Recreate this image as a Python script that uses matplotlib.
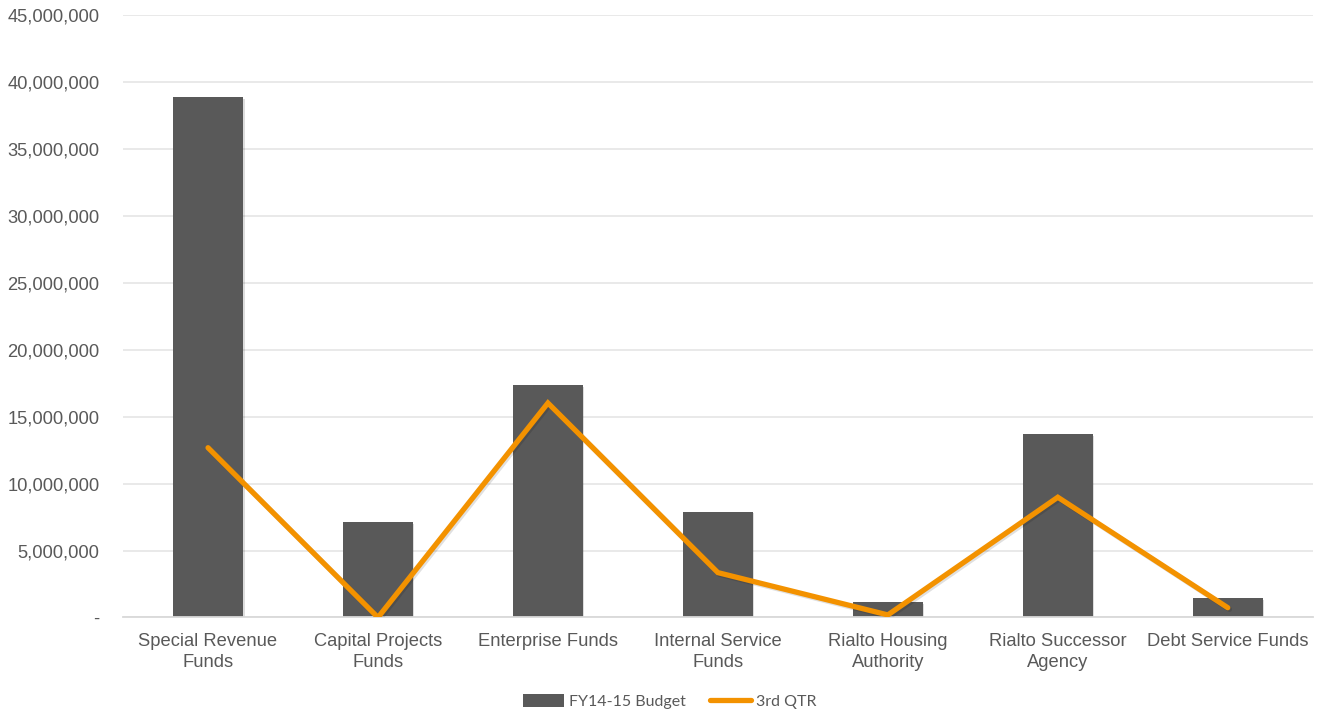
import matplotlib
matplotlib.use("Agg")
import matplotlib.pyplot as plt
import matplotlib.patheffects as pe
from matplotlib.ticker import FuncFormatter, MultipleLocator
from matplotlib.lines import Line2D
from matplotlib.patches import Patch
import numpy as np

categories = [
    "Special Revenue\nFunds",
    "Capital Projects\nFunds",
    "Enterprise Funds",
    "Internal Service\nFunds",
    "Rialto Housing\nAuthority",
    "Rialto Successor\nAgency",
    "Debt Service Funds",
]
budget = [38_850_000, 7_110_000, 17_360_000, 7_900_000, 1_140_000, 13_680_000, 1_430_000]
third_qtr = [12_680_000, 0, 16_020_000, 3_350_000, 190_000, 8_980_000, 730_000]

bar_color = "#595959"
line_color = "#F39200"
text_color = "#595959"

plt.rcParams["font.family"] = ["Liberation Sans", "DejaVu Sans"]

fig = plt.figure(figsize=(13.26, 7.15), dpi=100)
ax = fig.add_axes([0.0928, 0.1364, 0.8972, 0.8426])

x = np.arange(len(categories))
ax.bar(x, budget, width=0.41, color=bar_color, zorder=2,
       path_effects=[pe.SimplePatchShadow(offset=(1.2, -1.2), alpha=0.15), pe.Normal()])
ax.plot(x, third_qtr, color=line_color, linewidth=3.8, solid_capstyle="round",
        solid_joinstyle="miter", zorder=3,
        path_effects=[pe.SimpleLineShadow(offset=(1.2, -1.2), alpha=0.12), pe.Normal()])

ax.set_xlim(-0.5, len(categories) - 0.5)
ax.set_ylim(0, 45_000_000)
ax.yaxis.set_major_locator(MultipleLocator(5_000_000))
ax.yaxis.set_major_formatter(FuncFormatter(lambda v, p: "-" if v == 0 else f"{v:,.0f}"))
ax.grid(axis="y", color="#e3e3e3", linewidth=1.1, zorder=0)
ax.set_axisbelow(True)

for s in ["top", "right", "left"]:
    ax.spines[s].set_visible(False)
ax.spines["bottom"].set_color("#d9d9d9")
ax.spines["bottom"].set_linewidth(1.3)

ax.set_xticks(x)
ax.set_xticklabels(categories, fontsize=13.2, color=text_color, linespacing=1.3)
ax.tick_params(axis="x", length=0, pad=11)
ax.tick_params(axis="y", length=0, pad=17, labelsize=13.2, labelcolor=text_color)

handles = [
    Patch(facecolor=bar_color, edgecolor="none"),
    Line2D([0], [0], color=line_color, linewidth=3.8, solid_capstyle="round"),
]
fig.legend(handles, ["FY14-15 Budget", "3rd QTR"], loc="center",
           bbox_to_anchor=(0.505, 0.019), ncol=2, frameon=False,
           prop={"family": ["Lato", "DejaVu Sans"], "size": 11.5},
           labelcolor=text_color, handlelength=2.6, handleheight=0.9,
           handletextpad=0.3, columnspacing=1.5)

fig.savefig("out.png", dpi=100)
